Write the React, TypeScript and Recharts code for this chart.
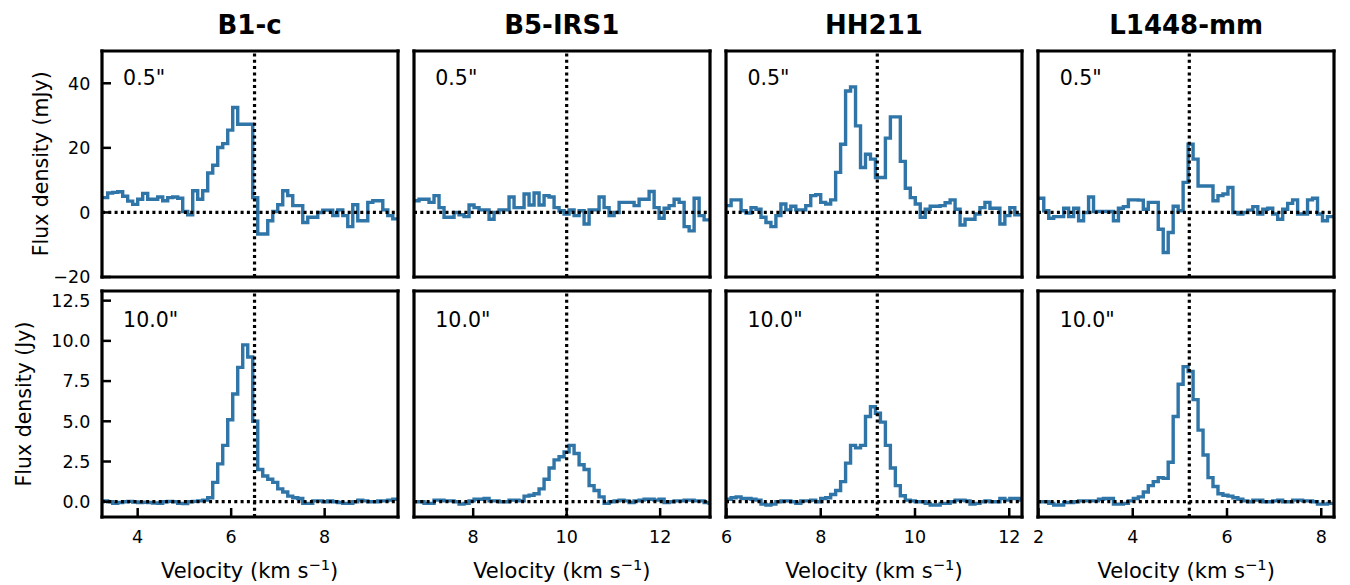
import { LineChart, Line, XAxis, YAxis, ReferenceLine } from "recharts"

const FONT = "DejaVu Sans"

// sources, systemic velocity, axis ranges and ticks
const sources = ["B1-c", "B5-IRS1", "HH211", "L1448-mm"]
const vsys = [6.5, 10.0, 9.2, 5.2]
const xDomains = [
  [3.237, 9.569],
  [6.734, 13.066],
  [5.99, 12.27],
  [1.99, 8.27],
]
const xTicks = [
  [4, 6, 8],
  [8, 10, 12],
  [6, 8, 10, 12],
  [2, 4, 6, 8],
]
// first channel centre (km/s) and channel width
const chanStart = [3.198, 6.681, 5.94, 1.954]
const chanWidth = [0.107, 0.107, 0.1056, 0.1056]

const smallTicks = [-20, 0, 20, 40]
const smallDomain = [-20, 50]
const largeTicks = [0, 2.5, 5, 7.5, 10, 12.5]
const largeDomain = [-0.95, 13.1]
const apertures = ['0.5"', '10.0"']

// 0.5" spectra (mJy)
const b1cSmall = [4.6, 4.6, 6.0, 6.2, 6.4, 5.0, 3.5, 2.5, 4.1, 5.9, 4.1, 4.1, 4.8, 3.6, 4.6, 4.8, 4.4, 0.3, -0.7, 6.7, 4.1, 6.7, 12.2, 14.6, 20.1, 21.3, 25.5, 32.5, 27.3, 27.3, 27.3, 4.6, -6.7, -6.7, -2.6, 0.3, 2.4, 6.7, 5.2, 2.1, 2.1, -3.1, -1.5, -1.5, 0.0, 0.7, 0.7, -1.0, 0.8, -1.0, -4.4, 2.4, -2.6, -2.6, 3.1, 3.6, 3.6, 0.8, -1.0, -2.0, -2.0]
const b5Small = [3.6, 3.6, 4.1, 4.1, 3.1, 5.2, 1.5, -1.5, -1.5, 0.0, -0.7, -1.3, 2.3, 1.5, 0.8, 0.8, -2.1, 0.0, 0.8, 0.8, 4.8, 1.5, 1.5, 5.7, 2.3, 6.0, 2.3, 5.2, 4.8, 1.5, 0.5, -0.5, 0.8, -1.0, 0.5, -3.6, 0.8, 0.8, 4.8, 1.5, -1.0, 0.0, 3.1, 3.1, 3.1, 2.1, 4.1, 4.1, 6.5, 1.5, -1.8, 1.3, 2.1, 4.1, 3.1, -4.4, -5.7, 4.4, -1.0, -2.3, -2.3]
const hh211Small = [2.1, 2.1, 3.9, 3.9, 0.5, -0.2, 1.5, 1.0, -1.5, -3.1, -4.4, -1.0, 2.6, 0.8, 1.9, 0.8, 0.8, 2.1, 5.2, 5.5, 3.1, 2.6, 3.9, 12.4, 21.1, 37.6, 38.9, 26.8, 13.9, 18.0, 16.5, 10.8, 10.8, 23.0, 29.6, 29.6, 15.8, 7.5, 4.6, 2.6, -1.5, 1.0, 1.9, 1.9, 2.1, 3.0, 3.9, 1.0, -3.9, -2.1, -2.1, -0.5, 1.5, 3.1, 1.3, 1.3, -3.6, -1.0, 1.5, -0.7, -0.7]
const l1448Small = [4.4, 4.4, 0.5, -1.8, -1.3, -1.3, 1.3, -1.3, 1.3, -2.6, 0.0, 4.8, 0.3, 0.3, 0.3, 0.3, -2.6, 1.3, 1.8, 3.9, 3.9, 3.8, 1.0, 3.1, 3.1, -5.2, -12.4, -6.2, 1.9, 0.5, 9.3, 21.1, 16.5, 8.2, 8.2, 8.2, 3.6, 5.2, 5.7, 7.7, 0.0, -0.5, 0.0, 0.7, 1.8, -0.5, 1.0, 1.3, -0.5, -2.1, 1.0, 2.8, 3.9, -0.5, -0.5, 3.9, 4.4, -0.5, -2.6, -1.3, -1.3]

// 10.0" spectra (Jy)
const b1cLarge = [0.05, 0.05, 0.0, -0.1, -0.05, 0.0, 0.02, -0.02, -0.05, -0.03, -0.05, -0.08, -0.1, 0.0, 0.02, 0.0, -0.1, -0.12, 0.0, 0.02, 0.05, 0.1, 0.25, 1.2, 2.35, 3.5, 5.1, 6.7, 8.35, 9.75, 9.0, 5.0, 2.0, 1.6, 1.4, 1.2, 0.8, 0.6, 0.35, 0.25, 0.2, -0.1, -0.1, 0.05, 0.05, 0.0, 0.05, 0.0, -0.05, -0.1, -0.1, 0.0, 0.1, 0.05, 0.0, 0.0, 0.05, 0.05, 0.1, 0.15, 0.15]
const b5Large = [0.0, 0.0, 0.0, -0.1, -0.1, 0.1, 0.1, 0.05, 0.05, 0.0, -0.15, -0.1, 0.05, 0.15, 0.15, 0.2, 0.05, 0.05, 0.0, 0.0, 0.1, 0.1, 0.05, 0.35, 0.4, 0.5, 0.8, 1.4, 2.1, 2.6, 2.8, 3.1, 3.5, 3.0, 2.3, 2.0, 1.0, 0.7, 0.3, -0.1, 0.0, 0.05, 0.1, 0.05, -0.05, 0.05, 0.1, 0.15, 0.15, 0.1, 0.15, -0.05, 0.0, 0.05, 0.05, 0.1, 0.1, 0.05, 0.05, -0.05, -0.1]
const hh211Large = [0.15, 0.15, 0.25, 0.3, 0.2, 0.2, 0.15, 0.1, -0.15, -0.2, -0.15, 0.0, 0.05, 0.05, 0.0, -0.1, 0.05, 0.05, 0.1, 0.0, 0.2, 0.25, 0.45, 0.7, 1.25, 2.4, 3.5, 3.35, 3.5, 5.3, 5.9, 5.5, 4.95, 3.5, 2.1, 1.0, 0.37, 0.1, 0.05, 0.0, 0.0, -0.1, -0.2, -0.2, -0.1, -0.1, 0.0, 0.1, 0.1, 0.05, -0.15, -0.1, 0.0, 0.05, 0.0, 0.0, 0.2, 0.1, 0.2, 0.2, 0.1]
const l1448Large = [0.0, 0.0, 0.0, -0.1, -0.2, -0.2, -0.05, -0.05, 0.0, 0.05, 0.05, 0.05, 0.05, 0.15, 0.2, 0.2, -0.15, -0.15, -0.1, 0.05, 0.2, 0.3, 0.6, 1.0, 1.25, 1.5, 1.45, 2.45, 5.3, 7.3, 8.4, 8.1, 6.35, 4.45, 2.9, 1.5, 0.95, 0.5, 0.4, 0.35, 0.25, 0.15, 0.05, 0.0, 0.1, 0.1, 0.0, 0.0, 0.05, 0.1, 0.0, 0.0, 0.1, 0.1, 0.05, 0.05, 0.0, -0.15, -0.15, -0.1, -0.1]

const small = [b1cSmall, b5Small, hh211Small, l1448Small]
const large = [b1cLarge, b5Large, hh211Large, l1448Large]

// layout (px)
const PLOT_W = 296
const PLOT_H = 226
const COL_X = [101.6, 413.8, 726.0, 1038.2]
const ROW_Y = [50.8, 291.0]
const AX_L = 70
const AX_R = 12
const AX_T = 12
const AX_B = 44

const LINE_COLOR = "#2f75a8"
const frame = { stroke: "#000", strokeWidth: 3.2, strokeLinecap: "square" as const }
const tickLine = { stroke: "#000", strokeWidth: 2.5 }
const dotted = { stroke: "#000", strokeWidth: 3.2, strokeDasharray: "3 3.3" }

const fmtSmall = (v: number) => (v < 0 ? `\u2212${Math.abs(v)}` : `${v}`)
const fmtLarge = (v: number) => v.toFixed(1)

const XTick = (p: any) => (
  <text x={p.x} y={p.y} dy="0.73em" textAnchor="middle" fontSize={17.5} fontFamily={FONT} fill="#000">
    {p.payload.value}
  </text>
)

const makeYTick = (fmt: (v: number) => string) => (p: any) => (
  <text x={p.x} y={p.y} dy="0.36em" textAnchor="end" fontSize={17.5} fontFamily={FONT} fill="#000">
    {fmt(p.payload.value)}
  </text>
)
const YTickSmall = makeYTick(fmtSmall)
const YTickLarge = makeYTick(fmtLarge)

function Panel({ col, row }: { col: number; row: number }) {
  const vals = row === 0 ? small[col] : large[col]
  const data = vals.map((f, i) => ({ v: chanStart[col] + i * chanWidth[col], f }))
  const yTicks = row === 0 ? smallTicks : largeTicks
  const yDomain = row === 0 ? smallDomain : largeDomain
  const showY = col === 0
  const showX = row === 1

  return (
    <div style={{ position: "absolute", left: COL_X[col] - AX_L, top: ROW_Y[row] - AX_T }}>
      <LineChart
        width={AX_L + PLOT_W + AX_R}
        height={AX_T + PLOT_H + AX_B}
        data={data}
        margin={{ top: 0, right: 0, bottom: 0, left: 0 }}
      >
        <XAxis
          xAxisId="b"
          dataKey="v"
          type="number"
          domain={xDomains[col]}
          allowDataOverflow
          ticks={xTicks[col]}
          interval={0}
          height={AX_B}
          tickSize={-9}
          tickMargin={22}
          axisLine={frame}
          tickLine={tickLine}
          tick={showX ? XTick : false}
        />
        <XAxis
          xAxisId="t"
          orientation="top"
          dataKey="v"
          type="number"
          domain={xDomains[col]}
          allowDataOverflow
          ticks={xTicks[col]}
          interval={0}
          height={AX_T}
          tickSize={-9}
          axisLine={frame}
          tickLine={tickLine}
          tick={false}
        />
        <YAxis
          yAxisId="l"
          type="number"
          domain={yDomain}
          allowDataOverflow
          ticks={yTicks}
          interval={0}
          width={AX_L}
          tickSize={-9}
          tickMargin={20.7}
          axisLine={frame}
          tickLine={tickLine}
          tick={showY ? (row === 0 ? YTickSmall : YTickLarge) : false}
        />
        <YAxis
          yAxisId="r"
          orientation="right"
          type="number"
          domain={yDomain}
          allowDataOverflow
          ticks={yTicks}
          interval={0}
          width={AX_R}
          tickSize={-9}
          axisLine={frame}
          tickLine={tickLine}
          tick={false}
        />
        <Line
          xAxisId="b"
          yAxisId="l"
          dataKey="f"
          type="step"
          stroke={LINE_COLOR}
          strokeWidth={3.4}
          dot={false}
          activeDot={false}
          isAnimationActive={false}
        />
        <ReferenceLine xAxisId="b" yAxisId="l" y={0} {...dotted} />
        <ReferenceLine xAxisId="b" yAxisId="l" x={vsys[col]} {...dotted} />
      </LineChart>
    </div>
  )
}

export default function App() {
  const cols = [0, 1, 2, 3]
  return (
    <div style={{ position: "absolute", left: 0, top: 0, width: 1350, height: 585, background: "#fff" }}>
      {cols.map((c) => (
        <Panel key={`s${c}`} col={c} row={0} />
      ))}
      {cols.map((c) => (
        <Panel key={`l${c}`} col={c} row={1} />
      ))}

      <svg
        width={1350}
        height={585}
        style={{ position: "absolute", left: 0, top: 0, pointerEvents: "none" }}
        fontFamily={FONT}
      >
        {cols.map((c) => (
          <g key={c}>
            <text x={COL_X[c] + PLOT_W / 2} y={33.5} textAnchor="middle" fontSize={26} fontWeight="bold">
              {sources[c]}
            </text>
            <text x={COL_X[c] + 21.5} y={ROW_Y[0] + 34} fontSize={20.5}>
              {apertures[0]}
            </text>
            <text x={COL_X[c] + 21.5} y={ROW_Y[1] + 35.5} fontSize={20.5}>
              {apertures[1]}
            </text>
            <text x={COL_X[c] + PLOT_W / 2} y={578} textAnchor="middle" fontSize={21}>
              Velocity (km s
              <tspan dy={-8} fontSize={14.7}>
                {"\u22121"}
              </tspan>
              <tspan dy={8}>)</tspan>
            </text>
          </g>
        ))}
        <text transform={`translate(48.3, ${ROW_Y[0] + PLOT_H / 2}) rotate(-90)`} textAnchor="middle" fontSize={20.5}>
          Flux density (mJy)
        </text>
        <text transform={`translate(31, ${ROW_Y[1] + PLOT_H / 2}) rotate(-90)`} textAnchor="middle" fontSize={20.5}>
          Flux density (Jy)
        </text>
      </svg>
    </div>
  )
}
